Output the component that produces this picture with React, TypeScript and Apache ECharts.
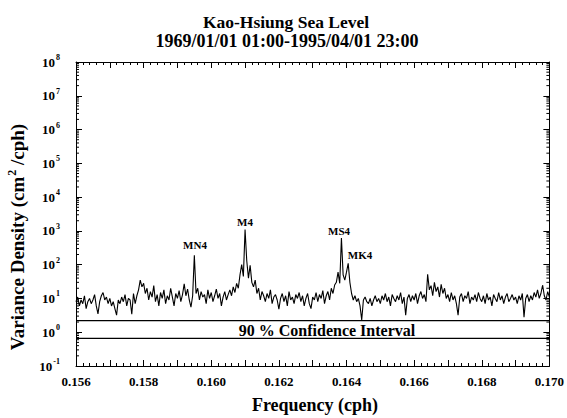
import React, { useEffect, useRef } from "react";
import * as echarts from "echarts";

const FONT = "'Liberation Serif', 'DejaVu Serif', serif";

// Frequency grid (cph)
const X_MIN = 0.156;
const X_MAX = 0.17;
const FREQ_STEP = 0.00005;

// Variance density (cm^2/cph), one value per 0.00005 cph
const spectrum: number[] = [
  // 0.1560 - 0.15695
  8, 11, 6, 9, 7, 12, 5, 8, 10, 7, 9, 13, 6, 3.5, 8, 12, 15, 9, 11, 7,
  // 0.1570 - 0.15795
  10, 6, 8, 5, 3.2, 9, 7, 11, 8, 13, 6, 10, 9, 3.4, 14, 7, 12, 18, 35, 22,
  // 0.1580 - 0.15895
  28, 14, 20, 9, 16, 11, 24, 8, 13, 6, 15, 10, 18, 7, 12, 9, 20, 11, 6, 14,
  // 0.1590 - 0.15995 (MN4)
  10, 17, 8, 13, 27, 12, 19, 9, 5.5, 12, 190, 14, 20, 9, 16, 11, 13, 7, 18, 10,
  // 0.1600 - 0.16095
  15, 8, 12, 19, 10, 14, 6, 11, 16, 9, 13, 18, 12, 22, 15, 28, 20, 50, 100, 45,
  // 0.1610 - 0.16195 (M4)
  1100, 130, 40, 95, 30, 22, 35, 14, 20, 9, 16, 12, 8, 14, 10, 18, 7, 11, 13, 9,
  // 0.1620 - 0.16295
  4.8, 10, 14, 8, 12, 6, 16, 9, 11, 7, 13, 10, 15, 8, 12, 6, 10, 14, 7, 5,
  // 0.1630 - 0.16395 (MS4)
  11, 9, 15, 8, 13, 10, 17, 7, 12, 16, 9, 20, 14, 25, 30, 60, 28, 620, 50, 35,
  // 0.1640 - 0.16495 (MK4)
  60, 110, 30, 14, 9, 12, 8, 10, 6, 2.3, 9, 11, 8, 7, 10, 6, 9, 12, 8, 10,
  // 0.1650 - 0.16595
  7, 12, 9, 14, 8, 11, 6, 13, 10, 8, 12, 9, 15, 7, 11, 3.2, 10, 13, 8, 12,
  // 0.1660 - 0.16695
  9, 14, 7, 12, 16, 10, 13, 8, 52, 18, 24, 12, 30, 16, 22, 11, 26, 14, 20, 10,
  // 0.1670 - 0.16795
  13, 8, 15, 9, 12, 7, 3.2, 11, 14, 8, 12, 10, 16, 7, 11, 9, 13, 8, 15, 10,
  // 0.1680 - 0.16895
  8, 12, 7, 14, 9, 11, 6, 13, 10, 8, 15, 9, 12, 7, 11, 14, 8, 10, 13, 9,
  // 0.1690 - 0.1700
  11, 7, 12, 9, 14, 2.8, 10, 13, 8, 12, 9, 15, 11, 18, 10, 14, 25, 12, 9, 16, 11,
];

// 90 % confidence interval bounds
const ciUpper = 2.2;
const ciLower = 0.66;

// Axis ranges
const Y_MIN = 0.1;
const Y_MAX = 1e8;

// Texts
const titleLines = ["Kao-Hsiung Sea Level", "1969/01/01 01:00-1995/04/01 23:00"];
const peakNames = ["MN4", "M4", "MS4", "MK4"];
const ciLabel = "90 % Confidence Interval";
const xTitle = "Frequency (cph)";

export default function App() {
  const ref = useRef<HTMLDivElement>(null);

  useEffect(() => {
    if (!ref.current) return;
    const chart = echarts.init(ref.current, null, { renderer: "svg" });

    const specData = spectrum.map((v, i) => [X_MIN + i * FREQ_STEP, v]);

    const minorTickVals: number[] = [];
    for (let k = -1; k < 8; k++) {
      for (let m = 2; m <= 9; m++) minorTickVals.push(m * Math.pow(10, k));
    }

    const txt = (
      text: string,
      x: number,
      y: number,
      size: number,
      align: string = "center"
    ) => ({
      type: "text",
      x,
      y,
      style: {
        text,
        fontFamily: FONT,
        fontWeight: "bold",
        fontSize: size,
        fill: "#000",
        align,
        verticalAlign: "middle",
      },
    });

    const option: any = {
      animation: false,
      backgroundColor: "#fff",
      grid: { left: 76, right: 17, top: 62, bottom: 52 },
      xAxis: [
        {
          type: "value",
          min: X_MIN,
          max: X_MAX,
          interval: 0.001,
          position: "bottom",
          axisLine: { show: true, onZero: false, lineStyle: { color: "#000", width: 1 } },
          axisTick: { show: true, inside: true, length: 6, lineStyle: { color: "#000" } },
          minorTick: { show: true, splitNumber: 5, length: 3, lineStyle: { color: "#000" } },
          splitLine: { show: false },
          axisLabel: {
            margin: 9,
            fontFamily: FONT,
            fontWeight: "bold",
            fontSize: 13,
            color: "#000",
            formatter: (v: number) =>
              Math.round(v * 1000) % 2 === 0 ? v.toFixed(3) : "",
          },
        },
        {
          type: "value",
          min: X_MIN,
          max: X_MAX,
          interval: 0.001,
          position: "top",
          axisLine: { show: true, onZero: false, lineStyle: { color: "#000", width: 1 } },
          axisTick: { show: true, inside: true, length: 6, lineStyle: { color: "#000" } },
          minorTick: { show: true, splitNumber: 5, length: 3, lineStyle: { color: "#000" } },
          splitLine: { show: false },
          axisLabel: { show: false },
        },
      ],
      yAxis: [
        {
          type: "log",
          logBase: 10,
          min: Y_MIN,
          max: Y_MAX,
          splitNumber: 9,
          position: "left",
          axisLine: { show: true, onZero: false, lineStyle: { color: "#000", width: 1 } },
          axisTick: { show: true, inside: true, length: 6, lineStyle: { color: "#000" } },
          splitLine: { show: false },
          axisLabel: {
            margin: 16,
            formatter: (v: number) => `{b|10}{e|${Math.round(Math.log10(v))}}`,
            rich: {
              b: { fontFamily: FONT, fontWeight: "bold", fontSize: 13, color: "#000" },
              e: {
                fontFamily: FONT,
                fontWeight: "bold",
                fontSize: 8,
                color: "#000",
                padding: [0, 0, 9, 1],
              },
            },
          },
        },
        {
          type: "log",
          logBase: 10,
          min: Y_MIN,
          max: Y_MAX,
          splitNumber: 9,
          position: "right",
          axisLine: { show: true, onZero: false, lineStyle: { color: "#000", width: 1 } },
          axisTick: { show: true, inside: true, length: 6, lineStyle: { color: "#000" } },
          splitLine: { show: false },
          axisLabel: { show: false },
        },
      ],
      series: [
        {
          type: "custom",
          silent: true,
          xAxisIndex: 0,
          yAxisIndex: 0,
          data: minorTickVals.map((v) => [X_MIN, v]),
          renderItem: (params: any, api: any) => {
            const v = api.value(1);
            const pL = api.coord([X_MIN, v]);
            const pR = api.coord([X_MAX, v]);
            return {
              type: "group",
              children: [
                {
                  type: "line",
                  shape: { x1: pL[0], y1: pL[1], x2: pL[0] + 3, y2: pL[1] },
                  style: { stroke: "#000", lineWidth: 1 },
                },
                {
                  type: "line",
                  shape: { x1: pR[0] - 3, y1: pR[1], x2: pR[0], y2: pR[1] },
                  style: { stroke: "#000", lineWidth: 1 },
                },
              ],
            };
          },
        },
        {
          type: "line",
          data: specData,
          xAxisIndex: 0,
          yAxisIndex: 0,
          showSymbol: false,
          symbol: "none",
          lineStyle: { color: "#000", width: 1.1 },
          silent: true,
        },
        {
          type: "line",
          data: [
            [X_MIN, ciUpper],
            [X_MAX, ciUpper],
          ],
          symbol: "none",
          lineStyle: { color: "#000", width: 1.2 },
          silent: true,
        },
        {
          type: "line",
          data: [
            [X_MIN, ciLower],
            [X_MAX, ciLower],
          ],
          symbol: "none",
          lineStyle: { color: "#000", width: 1.2 },
          silent: true,
        },
      ],
      graphic: [
        txt(titleLines[0], 286, 22, 17.5),
        txt(titleLines[1], 287, 41, 18),
        txt(peakNames[0], 195, 245, 11),
        txt(peakNames[1], 245, 222, 11),
        txt(peakNames[2], 339, 231, 11),
        txt(peakNames[3], 360, 255, 11),
        txt(ciLabel, 327, 330, 16),
        txt(xTitle, 315, 405, 18),
        {
          type: "text",
          x: 17,
          y: 237,
          rotation: Math.PI / 2,
          style: {
            text: "{a|Variance Density (cm}{s|2}{a| /cph)}",
            align: "center",
            verticalAlign: "middle",
            rich: {
              a: { fontFamily: FONT, fontWeight: "bold", fontSize: 19, fill: "#000" },
              s: {
                fontFamily: FONT,
                fontWeight: "bold",
                fontSize: 12,
                fill: "#000",
                padding: [0, 0, 11, 1],
              },
            },
          },
        },
      ],
    };

    chart.setOption(option);
    return () => chart.dispose();
  }, []);

  return (
    <div
      ref={ref}
      style={{ position: "fixed", left: 0, top: 0, width: 567, height: 418, background: "#fff" }}
    />
  );
}
